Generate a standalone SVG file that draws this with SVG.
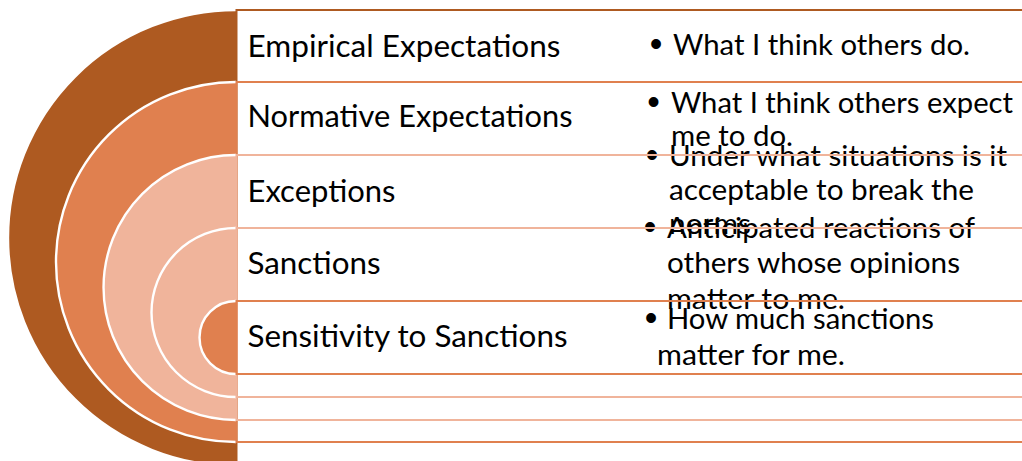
<svg xmlns="http://www.w3.org/2000/svg" width="1022" height="461" viewBox="0 0 1022 461">
  <style>
    .bg { fill: #ffffff; }
    .arc { stroke: #ffffff; stroke-width: 2.4; }
    .dark { fill: #AE5A21; }
    .mid { fill: #E0804F; }
    .light { fill: #F0B49B; }
    .box { fill: none; stroke-width: 2; }
    .box.dark { stroke: #AE5A21; }
    .box.mid { stroke: #E0804F; }
    .box.light { stroke: #F0B49B; }
    .label { font-family: Lato, "Open Sans", "Liberation Sans", sans-serif; font-size: 31px; fill: #000000; }
    .desc { font-family: Lato, "Open Sans", "Liberation Sans", sans-serif; font-size: 29px; fill: #000000; }
    .bullet { font-family: "Liberation Sans", Arial, sans-serif; font-size: 36px; fill: #000000; text-anchor: middle; }
  </style>
  <rect class="bg" x="0" y="0" width="1022" height="461"/>

  <!-- Outer ring: empirical expectations -->
  <g id="node-empirical">
    <path class="arc dark" d="M236,10 A228,228 0 0 0 236,466"/>
    <text class="label" x="247.5" y="56.5" textLength="313" lengthAdjust="spacingAndGlyphs">Empirical Expectations</text>
    <text class="bullet" x="656" y="56">•</text>
    <text class="desc" x="673" y="55" textLength="297" lengthAdjust="spacingAndGlyphs">What I think others do.</text>
    <rect class="box dark" x="236.5" y="10" width="900" height="456"/>
  </g>

  <!-- Second ring: normative expectations -->
  <g id="node-normative">
    <path class="arc mid" d="M236,82 A180,180 0 0 0 236,442"/>
    <text class="label" x="247.5" y="127" textLength="325" lengthAdjust="spacingAndGlyphs">Normative Expectations</text>
    <text class="bullet" x="653.5" y="114">•</text>
    <text class="desc" x="671" y="113" textLength="342" lengthAdjust="spacingAndGlyphs">What I think others expect</text>
    <text class="desc" x="671" y="146" textLength="122" lengthAdjust="spacingAndGlyphs">me to do.</text>
    <rect class="box mid" x="236.5" y="82" width="900" height="360"/>
  </g>

  <!-- Third ring: exceptions -->
  <g id="node-exceptions">
    <path class="arc light" d="M236,155 A132.5,132.5 0 0 0 236,420"/>
    <text class="label" x="247.5" y="201.5" textLength="148" lengthAdjust="spacingAndGlyphs">Exceptions</text>
    <text class="bullet" x="652" y="167">•</text>
    <text class="desc" x="669" y="166" textLength="338" lengthAdjust="spacingAndGlyphs">Under what situations is it</text>
    <text class="desc" x="669" y="200" textLength="305" lengthAdjust="spacingAndGlyphs">acceptable to break the</text>
    <text class="desc" x="669" y="234" textLength="82" lengthAdjust="spacingAndGlyphs">norms</text>
    <rect class="box light" x="236.5" y="155" width="900" height="265"/>
  </g>

  <!-- Fourth ring: sanctions -->
  <g id="node-sanctions">
    <path class="arc light" d="M236,228 A84.5,84.5 0 0 0 236,397"/>
    <text class="label" x="247.5" y="273.5" textLength="133" lengthAdjust="spacingAndGlyphs">Sanctions</text>
    <text class="bullet" x="650" y="239">•</text>
    <text class="desc" x="667" y="238" textLength="308" lengthAdjust="spacingAndGlyphs">Anticipated reactions of</text>
    <text class="desc" x="667" y="273" textLength="293" lengthAdjust="spacingAndGlyphs">others whose opinions</text>
    <text class="desc" x="667" y="309" textLength="178" lengthAdjust="spacingAndGlyphs">matter to me.</text>
    <rect class="box light" x="236.5" y="228" width="900" height="169"/>
  </g>

  <!-- Core: sensitivity to sanctions -->
  <g id="node-sensitivity">
    <path class="arc mid" d="M236,301 A36.5,36.5 0 0 0 236,374"/>
    <text class="label" x="247.5" y="347" textLength="320" lengthAdjust="spacingAndGlyphs">Sensitivity to Sanctions</text>
    <text class="bullet" x="651" y="330">•</text>
    <text class="desc" x="667" y="329" textLength="267" lengthAdjust="spacingAndGlyphs">How much sanctions</text>
    <text class="desc" x="657" y="365" textLength="188" lengthAdjust="spacingAndGlyphs">matter for me.</text>
    <rect class="box mid" x="236.5" y="301" width="900" height="73"/>
  </g>

  <g id="connectors"></g>
</svg>
